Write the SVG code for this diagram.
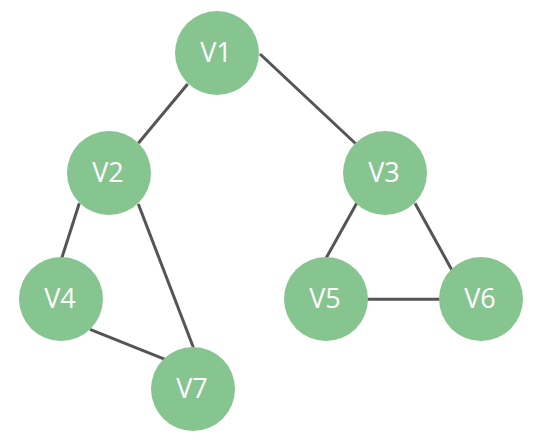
<svg xmlns="http://www.w3.org/2000/svg" width="544" height="447" viewBox="0 0 544 447">
<style>
.e{stroke:#555555;stroke-width:3;fill:none}
.n circle{fill:#86C490}
.n text{fill:#ffffff;font-family:"Open Sans","DejaVu Sans",sans-serif;font-size:27px;text-anchor:middle}
</style>
<rect width="544" height="447" fill="#ffffff"/>
<g id="edges">
<line class="e" x1="187.7" y1="84" x2="138.3" y2="143.3"/>
<line class="e" x1="260" y1="54" x2="356" y2="144"/>
<line class="e" x1="79.3" y1="203.3" x2="61.7" y2="258.3"/>
<line class="e" x1="138.3" y1="204" x2="193.3" y2="347.3"/>
<line class="e" x1="90" y1="329.3" x2="165" y2="359.3"/>
<line class="e" x1="356.7" y1="203.3" x2="326" y2="258.3"/>
<line class="e" x1="415" y1="203.3" x2="452.3" y2="270.7"/>
<line class="e" x1="366" y1="299.3" x2="441" y2="299.3"/>
</g>
<g id="V1" class="n"><circle cx="217" cy="53" r="42"/><text x="216" y="62">V1</text></g>
<g id="V2" class="n"><circle cx="109" cy="173" r="42"/><text x="108" y="182">V2</text></g>
<g id="V3" class="n"><circle cx="385" cy="173" r="42"/><text x="384" y="182">V3</text></g>
<g id="V4" class="n"><circle cx="61" cy="299" r="42"/><text x="60" y="308">V4</text></g>
<g id="V5" class="n"><circle cx="326" cy="299" r="42"/><text x="325" y="308">V5</text></g>
<g id="V6" class="n"><circle cx="481" cy="299" r="42"/><text x="480" y="308">V6</text></g>
<g id="V7" class="n"><circle cx="193" cy="389" r="42"/><text x="192" y="398">V7</text></g>
</svg>
